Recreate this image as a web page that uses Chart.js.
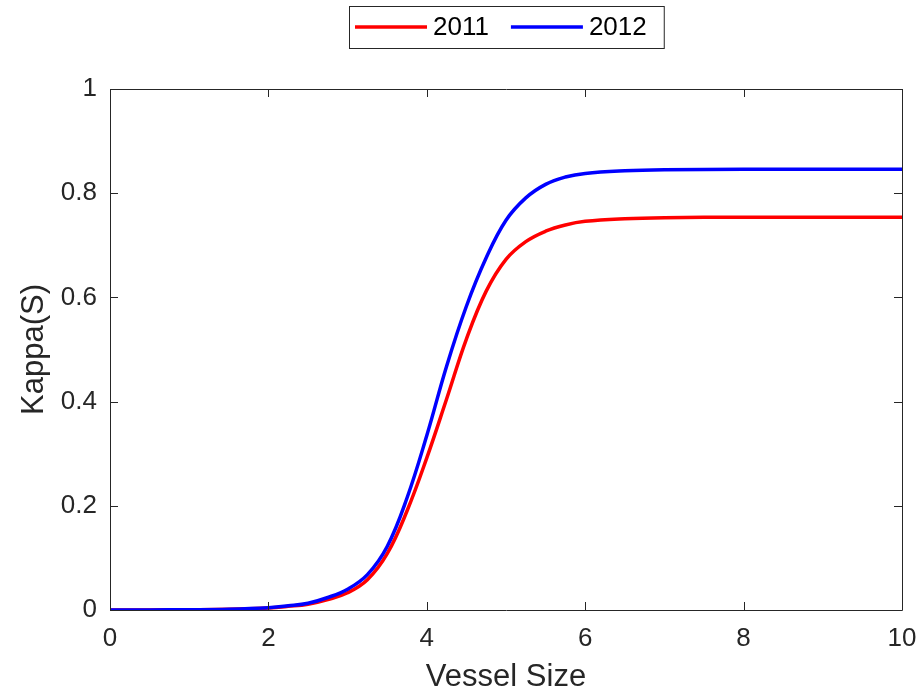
<!DOCTYPE html>
<html>
<head>
<meta charset="utf-8">
<script src="https://cdn.jsdelivr.net/npm/chart.js@4/dist/chart.umd.min.js"></script>
<style>
  html, body { margin: 0; padding: 0; background: #fff; }
  #wrap { width: 920px; height: 698px; }
</style>
</head>
<body>
<div id="wrap"><canvas id="kappaChart" width="920" height="698"></canvas></div>
<script>
// values
const vesselSize = [0, 0.5, 1, 1.5, 2, 2.25, 2.5, 2.75, 3, 3.25, 3.5, 3.75, 4, 4.25, 4.5, 4.75, 5, 5.25, 5.5, 5.75, 6, 6.5, 7, 8, 9, 10];
const kappa2011 = [0, 0.0002, 0.0005, 0.0013, 0.004, 0.007, 0.011, 0.020, 0.033, 0.058, 0.108, 0.190, 0.292, 0.405, 0.520, 0.612, 0.673, 0.707, 0.727, 0.739, 0.746, 0.751, 0.753, 0.754, 0.754, 0.754];
const kappa2012 = [0, 0.0002, 0.0005, 0.0015, 0.0045, 0.008, 0.013, 0.024, 0.040, 0.068, 0.122, 0.215, 0.335, 0.468, 0.583, 0.676, 0.748, 0.791, 0.817, 0.831, 0.838, 0.843, 0.845, 0.846, 0.846, 0.846];
const seriesLabels = ['2011', '2012'];
const xTicks = [0, 2, 4, 6, 8, 10];
const yTicks = [0, 0.2, 0.4, 0.6, 0.8, 1];

const AXIS_COLOR = '#262626';
const FONT = '"Liberation Sans", Arial, Helvetica, sans-serif';

function toPoints(xs, ys) {
    return xs.map((x, i) => ({ x: x, y: ys[i] }));
}

// MATLAB-like box with inward ticks on all four sides
const boxAxes = {
    id: 'boxAxes',
    afterDatasetsDraw(chart) {
        const { ctx, chartArea: a, scales } = chart;
        const len = 8;
        ctx.save();
        ctx.strokeStyle = AXIS_COLOR;
        ctx.lineWidth = 1;
        ctx.beginPath();
        ctx.rect(a.left + 0.5, a.top + 0.5, a.right - a.left, a.bottom - a.top);
        xTicks.forEach(v => {
            const px = Math.round(scales.x.getPixelForValue(v)) + 0.5;
            ctx.moveTo(px, a.bottom); ctx.lineTo(px, a.bottom - len);
            ctx.moveTo(px, a.top); ctx.lineTo(px, a.top + len);
        });
        yTicks.forEach(v => {
            const py = Math.round(scales.y.getPixelForValue(v)) + 0.5;
            ctx.moveTo(a.left, py); ctx.lineTo(a.left + len, py);
            ctx.moveTo(a.right, py); ctx.lineTo(a.right - len, py);
        });
        ctx.stroke();
        ctx.restore();
    }
};

// boxed legend centred over the plot area
const boxLegend = {
    id: 'boxLegend',
    afterDraw(chart) {
        const { ctx, chartArea: a } = chart;
        const sets = chart.data.datasets.slice().sort((p, q) => seriesLabels.indexOf(p.label) - seriesLabels.indexOf(q.label));
        ctx.save();
        ctx.font = '26px ' + FONT;
        const lineLen = 72, gapLine = 6, gapItem = 22, padL = 6, padR = 17;
        const widths = sets.map(d => ctx.measureText(d.label).width);
        let total = padL + padR;
        widths.forEach((w, i) => { total += lineLen + gapLine + w + (i < widths.length - 1 ? gapItem : 0); });
        const cx = (a.left + a.right) / 2;
        const left = Math.round(cx - total / 2);
        const top = 6, h = 42, midY = top + h / 2;
        ctx.fillStyle = '#fff';
        ctx.fillRect(left, top, total, h);
        ctx.strokeStyle = AXIS_COLOR;
        ctx.lineWidth = 1;
        ctx.strokeRect(left + 0.5, top + 0.5, total, h);
        let x = left + padL;
        sets.forEach((d, i) => {
            ctx.strokeStyle = d.borderColor;
            ctx.lineWidth = 3.5;
            ctx.beginPath();
            ctx.moveTo(x, midY); ctx.lineTo(x + lineLen, midY);
            ctx.stroke();
            x += lineLen + gapLine;
            ctx.fillStyle = '#000';
            ctx.textBaseline = 'middle';
            ctx.textAlign = 'left';
            ctx.fillText(d.label, x, midY + 1);
            x += widths[i] + gapItem;
        });
        ctx.restore();
    }
};

new Chart(document.getElementById('kappaChart'), {
    type: 'line',
    data: {
        datasets: [{
            label: seriesLabels[1],
            data: toPoints(vesselSize, kappa2012),
            borderColor: '#0000ff',
            borderWidth: 3.5,
            order: 0
        }, {
            label: seriesLabels[0],
            data: toPoints(vesselSize, kappa2011),
            borderColor: '#ff0000',
            borderWidth: 3.5,
            order: 1
        }]
    },
    options: {
        responsive: false,
        animation: false,
        devicePixelRatio: 1,
        layout: { padding: { top: 89, right: 18, left: 0, bottom: 0 } },
        elements: {
            point: { radius: 0 },
            line: { tension: 0.4, fill: false }
        },
        plugins: {
            legend: { display: false },
            tooltip: { enabled: false }
        },
        scales: {
            x: {
                type: 'linear',
                min: 0, max: 10,
                afterFit: s => { s.height = 88; s.paddingLeft = 0; s.paddingRight = 0; },
                afterBuildTicks: s => { s.ticks = xTicks.map(v => ({ value: v })); },
                grid: { display: false, drawTicks: false },
                border: { display: false },
                ticks: { color: AXIS_COLOR, font: { family: FONT, size: 26 }, padding: 13, maxRotation: 0, callback: v => String(v) },
                title: { display: true, text: 'Vessel Size', color: AXIS_COLOR, font: { family: FONT, size: 31 }, padding: { top: 0, bottom: 2 } }
            },
            y: {
                type: 'linear',
                min: 0, max: 1,
                afterFit: s => { s.width = 110; },
                afterBuildTicks: s => { s.ticks = yTicks.map(v => ({ value: v })); },
                grid: { display: false, drawTicks: false },
                border: { display: false },
                ticks: { color: AXIS_COLOR, font: { family: FONT, size: 26 }, padding: 13, callback: v => String(v) },
                title: { display: true, text: 'Kappa(S)', color: AXIS_COLOR, font: { family: FONT, size: 31 }, padding: { top: 16, bottom: 0 } }
            }
        }
    },
    plugins: [boxAxes, boxLegend]
});
</script>
</body>
</html>
